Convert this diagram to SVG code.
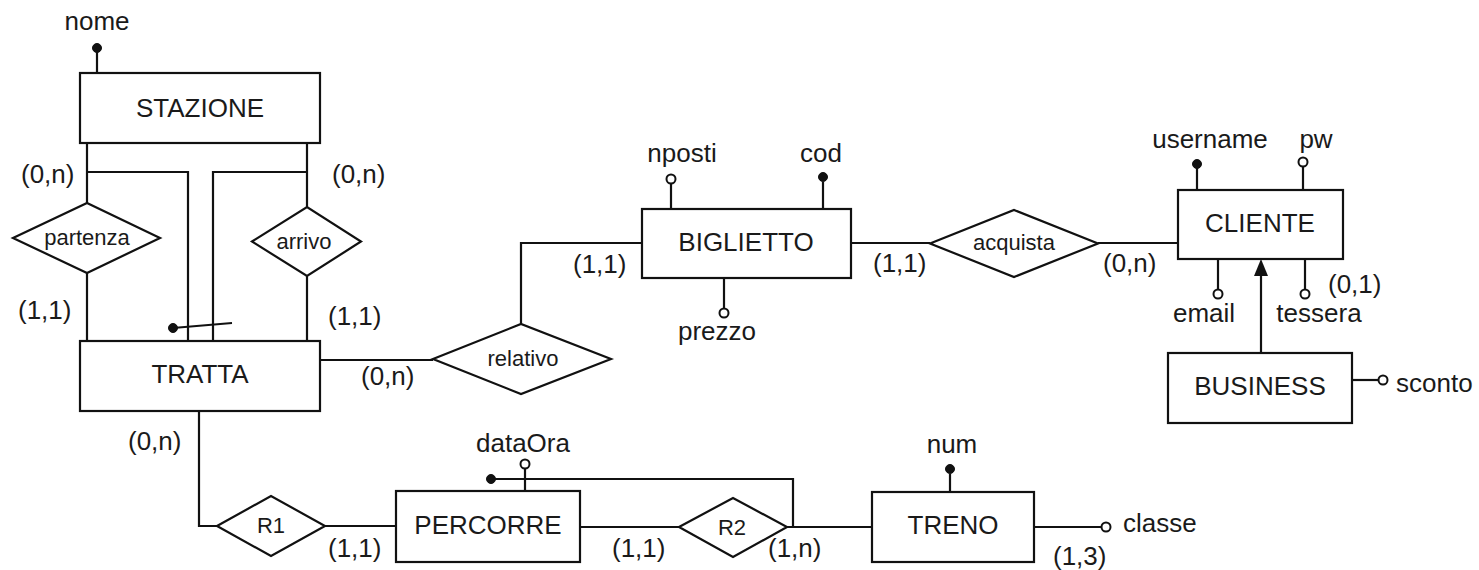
<svg xmlns="http://www.w3.org/2000/svg" width="1479" height="570" viewBox="0 0 1479 570">
  <style>
    .ent { fill: #ffffff; stroke: #111111; stroke-width: 2.2; }
    .rel { fill: #ffffff; stroke: #111111; stroke-width: 2.2; }
    .ln { fill: none; stroke: #111111; stroke-width: 2.2; }
    .key { fill: #111111; stroke: #111111; stroke-width: 1; }
    .opt { fill: #ffffff; stroke: #111111; stroke-width: 2; }
    text { font-family: "Liberation Sans", Arial, sans-serif; fill: #1a1a1a; }
    .big { font-size: 26px; }
    .mid { text-anchor: middle; }
    .rl { font-size: 22px; text-anchor: middle; }
  </style>

  <!-- relationship links and attribute stems -->
  <g id="connectors">
    <!-- STAZIONE / partenza / arrivo / TRATTA -->
    <path class="ln" d="M87,143 V203 M87,273 V341"/>
    <path class="ln" d="M307,143 V207 M307,276 V341"/>
    <path class="ln" d="M87,172 H188 V341"/>
    <path class="ln" d="M307,172 H213 V341"/>
    <!-- external identifier of TRATTA -->
    <path class="ln" d="M173,328 L232,323"/>
    <circle class="key" cx="173" cy="328" r="4.5"/>
    <!-- TRATTA / relativo / BIGLIETTO -->
    <path class="ln" d="M320,360 H433"/>
    <path class="ln" d="M521,324 V243 H642"/>
    <!-- BIGLIETTO / acquista / CLIENTE -->
    <path class="ln" d="M851,243 H930"/>
    <path class="ln" d="M1098,243 H1178"/>
    <!-- generalization BUSINESS -> CLIENTE -->
    <path class="ln" d="M1261,353 V274"/>
    <polygon fill="#111111" points="1261,259 1254,276 1268,276"/>
    <!-- TRATTA / R1 / PERCORRE -->
    <path class="ln" d="M199,411 V526 H217"/>
    <path class="ln" d="M325,526 H396"/>
    <!-- PERCORRE / R2 / TRENO -->
    <path class="ln" d="M580,527 H679"/>
    <path class="ln" d="M787,527 H872"/>
    <!-- identifier of PERCORRE -->
    <path class="ln" d="M491,479 H793 V527"/>
    <circle class="key" cx="491" cy="479" r="4.5"/>
  </g>

  <g id="stazione">
    <rect class="ent" x="80" y="73" width="240" height="70"/>
    <text class="big mid" x="200" y="117">STAZIONE</text>
    <path class="ln" d="M97,73 V52"/>
    <circle class="key" cx="97" cy="48" r="4.5"/>
    <text class="big mid" x="97" y="30">nome</text>
  </g>

  <g id="partenza">
    <polygon class="rel" points="13,238 87,203 160,238 87,273"/>
    <text class="rl" x="87" y="245">partenza</text>
  </g>

  <g id="arrivo">
    <polygon class="rel" points="252,241.5 307,207 361,241.5 307,276"/>
    <text class="rl" x="304" y="249">arrivo</text>
  </g>

  <g id="tratta">
    <rect class="ent" x="80" y="341" width="240" height="70"/>
    <text class="big mid" x="200" y="383">TRATTA</text>
  </g>

  <g id="relativo">
    <polygon class="rel" points="433,359 521,324 611,359 521,394"/>
    <text class="rl" x="523" y="366">relativo</text>
  </g>

  <g id="biglietto">
    <rect class="ent" x="642" y="209" width="209" height="69"/>
    <text class="big mid" x="746" y="251">BIGLIETTO</text>
    <path class="ln" d="M671,209 V184"/>
    <circle class="opt" cx="671" cy="179" r="4.5"/>
    <text class="big mid" x="682" y="162">nposti</text>
    <path class="ln" d="M823,209 V182"/>
    <circle class="key" cx="823" cy="177" r="4.5"/>
    <text class="big mid" x="821" y="162">cod</text>
    <path class="ln" d="M724,278 V308"/>
    <circle class="opt" cx="724" cy="313" r="4.5"/>
    <text class="big mid" x="717" y="340">prezzo</text>
  </g>

  <g id="acquista">
    <polygon class="rel" points="930,243.5 1014,210 1098,243.5 1014,277"/>
    <text class="rl" x="1014" y="250">acquista</text>
  </g>

  <g id="cliente">
    <rect class="ent" x="1178" y="190" width="165" height="69"/>
    <text class="big mid" x="1260" y="232">CLIENTE</text>
    <path class="ln" d="M1197,190 V168"/>
    <circle class="key" cx="1197" cy="164" r="4.5"/>
    <text class="big mid" x="1210" y="148">username</text>
    <path class="ln" d="M1303,190 V167"/>
    <circle class="opt" cx="1303" cy="162" r="4.5"/>
    <text class="big mid" x="1316" y="148">pw</text>
    <path class="ln" d="M1218,259 V289"/>
    <circle class="opt" cx="1218" cy="294" r="4.5"/>
    <text class="big mid" x="1204" y="322">email</text>
    <path class="ln" d="M1305,259 V289"/>
    <circle class="opt" cx="1305" cy="294" r="4.5"/>
    <text class="big mid" x="1319" y="322">tessera</text>
  </g>

  <g id="business">
    <rect class="ent" x="1168" y="353" width="184" height="70"/>
    <text class="big mid" x="1260" y="395">BUSINESS</text>
    <path class="ln" d="M1352,380 H1378"/>
    <circle class="opt" cx="1383" cy="380" r="4.5"/>
    <text class="big" x="1396" y="392">sconto</text>
  </g>

  <g id="r1">
    <polygon class="rel" points="217,526 271,496 325,526 271,556"/>
    <text class="rl" x="271" y="533">R1</text>
  </g>

  <g id="percorre">
    <rect class="ent" x="396" y="491" width="184" height="71"/>
    <text class="big mid" x="488" y="534">PERCORRE</text>
    <path class="ln" d="M525,491 V469"/>
    <circle class="opt" cx="525" cy="464" r="4.5"/>
    <text class="big mid" x="523" y="452">dataOra</text>
  </g>

  <g id="r2">
    <polygon class="rel" points="679,527 733,498 787,527 733,557"/>
    <text class="rl" x="732" y="535">R2</text>
  </g>

  <g id="treno">
    <rect class="ent" x="872" y="492" width="162" height="70"/>
    <text class="big mid" x="953" y="534">TRENO</text>
    <path class="ln" d="M950,492 V474"/>
    <circle class="key" cx="950" cy="469" r="4.5"/>
    <text class="big mid" x="952" y="453">num</text>
    <path class="ln" d="M1034,527 H1101"/>
    <circle class="opt" cx="1106" cy="527" r="4.5"/>
    <text class="big" x="1123" y="532">classe</text>
  </g>

  <!-- cardinalities -->
  <g id="cardinalities" class="big">
    <text x="21" y="183">(0,n)</text>
    <text x="332" y="183">(0,n)</text>
    <text x="18" y="319">(1,1)</text>
    <text x="328" y="325">(1,1)</text>
    <text x="361" y="385">(0,n)</text>
    <text x="573" y="273">(1,1)</text>
    <text x="873" y="272">(1,1)</text>
    <text x="1103" y="272">(0,n)</text>
    <text x="1328" y="293">(0,1)</text>
    <text x="128" y="450">(0,n)</text>
    <text x="328" y="557">(1,1)</text>
    <text x="612" y="557">(1,1)</text>
    <text x="768" y="557">(1,n)</text>
    <text x="1053" y="565">(1,3)</text>
  </g>
</svg>
